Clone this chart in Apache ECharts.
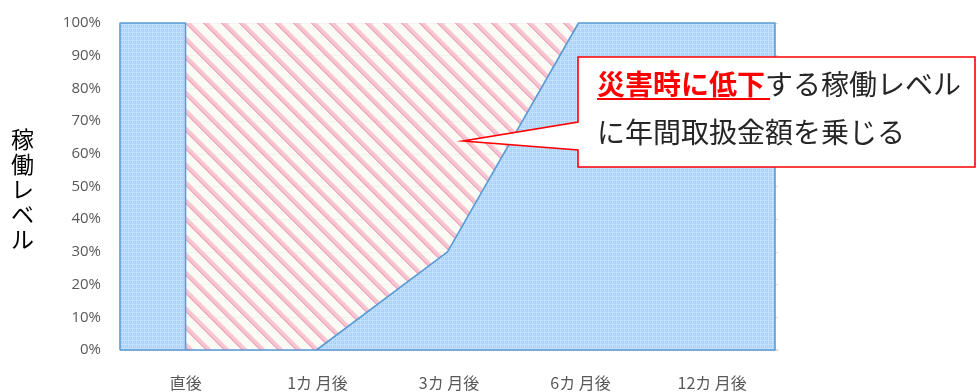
<!DOCTYPE html>
<html>
<head>
<meta charset="utf-8">
<script src="https://cdn.jsdelivr.net/npm/echarts@6/dist/echarts.min.js"></script>
<style>
  html, body { margin: 0; padding: 0; background: #ffffff; }
  #chart { width: 977px; height: 392px; }
</style>
</head>
<body>
<div id="chart"></div>
<script>
// Time points after the disaster
const categories = ['直後', '1カ 月後', '3カ 月後', '6カ 月後', '12カ 月後'];
// Operating level before the disaster (%)
const levelBefore = 100;
// Operating level at each time point (%)
const levelAfter = [0, 0, 30, 100, 100];
// Y axis ticks (%)
const yTicks = [0, 10, 20, 30, 40, 50, 60, 70, 80, 90, 100];

// Outline of the operating-level area on a continuous axis:
// index i sits at the centre of category i, edges at -0.5 and n-0.5
const n = categories.length;
const levelPath = [[-0.5, 0], [-0.5, levelBefore], [0, levelBefore]];
levelAfter.forEach((v, i) => levelPath.push([i, v]));
levelPath.push([n - 0.5, levelAfter[n - 1]], [n - 0.5, 0], [-0.5, 0]);

// Full-height band behind it (lost operating level shows through)
const fullBand = [[-0.5, yTicks[yTicks.length - 1]], [n - 0.5, yTicks[yTicks.length - 1]]];

function bluePattern() {
  const c = document.createElement('canvas');
  c.width = 8; c.height = 8;
  const ctx = c.getContext('2d');
  const img = ctx.createImageData(8, 8);
  for (let y = 0; y < 8; y++) {
    for (let x = 0; x < 8; x++) {
      let col = [168, 208, 250];
      if (x % 4 === 0 || y % 4 === 0) col = [196, 225, 253];
      if ((x % 4 === 2) && (y % 4 === 2)) col = [210, 232, 253];
      const k = (y * 8 + x) * 4;
      img.data[k] = col[0]; img.data[k + 1] = col[1]; img.data[k + 2] = col[2]; img.data[k + 3] = 255;
    }
  }
  ctx.putImageData(img, 0, 0);
  return c;
}

function pinkPattern() {
  const p = 18;
  const c = document.createElement('canvas');
  c.width = p; c.height = p;
  const ctx = c.getContext('2d');
  const img = ctx.createImageData(p, p);
  for (let y = 0; y < p; y++) {
    for (let x = 0; x < p; x++) {
      const d = ((x - y) % p + p) % p;
      let col = [250, 250, 244], a = 200;
      if (d < 2) { col = [242, 172, 192]; a = 255; }
      else if (d < 6) { col = [247, 198, 210]; a = 255; }
      else if (d < 7) { col = [249, 220, 226]; a = 235; }
      const k = (y * p + x) * 4;
      img.data[k] = col[0]; img.data[k + 1] = col[1]; img.data[k + 2] = col[2]; img.data[k + 3] = a;
    }
  }
  ctx.putImageData(img, 0, 0);
  return c;
}

const chart = echarts.init(document.getElementById('chart'), null, { renderer: 'canvas' });

const labelFont = "'Noto Sans CJK JP', 'Noto Sans', sans-serif";

chart.setOption({
  animation: false,
  backgroundColor: '#ffffff',
  grid: [
    { left: 120, right: 199, top: 23, bottom: 42 },
    { left: 120, right: 202, top: 23, bottom: 42 }
  ],
  xAxis: [
    {
      type: 'category', gridIndex: 0, data: categories, boundaryGap: true,
      axisLine: { show: true, lineStyle: { color: '#d9d9d9', width: 1.5 } },
      axisTick: { show: false },
      axisLabel: { color: '#595959', fontSize: 16, margin: 25, fontFamily: labelFont },
      splitLine: { show: false }
    },
    {
      type: 'value', gridIndex: 1, min: -0.5, max: n - 0.5, show: false
    }
  ],
  yAxis: [
    {
      type: 'value', gridIndex: 0, min: yTicks[0], max: yTicks[yTicks.length - 1], interval: 10,
      axisLine: { show: false }, axisTick: { show: false },
      axisLabel: { color: '#595959', fontSize: 15, margin: 19, fontFamily: "'Open Sans', 'Noto Sans', sans-serif", formatter: '{value}%' },
      splitLine: { show: true, lineStyle: { color: '#d9d9d9', width: 1 } }
    },
    {
      type: 'value', gridIndex: 1, min: yTicks[0], max: yTicks[yTicks.length - 1], show: false
    }
  ],
  series: [
    {
      type: 'line', xAxisIndex: 1, yAxisIndex: 1, data: fullBand,
      symbol: 'none', lineStyle: { width: 0, opacity: 0 },
      areaStyle: { color: { image: pinkPattern(), repeat: 'repeat' }, opacity: 1 },
      z: 1
    },
    {
      type: 'line', xAxisIndex: 1, yAxisIndex: 1, data: levelPath,
      symbol: 'none', clip: false,
      lineStyle: { color: '#5b9bd5', width: 1.6 },
      areaStyle: { color: { image: bluePattern(), repeat: 'repeat' }, opacity: 1 },
      z: 2
    }
  ],
  graphic: [
    {
      type: 'text', left: 11, top: 127, z: 10,
      style: {
        text: '稼\n働\nレ\nベ\nル', fontSize: 23, lineHeight: 25,
        fill: '#000000', fontFamily: labelFont, align: 'center'
      }
    },
    {
      type: 'polygon', z: 20,
      shape: { points: [[578, 57], [975, 57], [975, 167], [578, 167], [578, 150], [463, 141], [578, 122]] },
      style: { fill: '#ffffff', stroke: '#ff0000', lineWidth: 1.6 }
    },
    {
      type: 'text', x: 597, y: 84, z: 21,
      style: {
        text: '{r|災害時に低下}{k|する稼働レベル}',
        verticalAlign: 'middle', fontFamily: labelFont,
        rich: {
          r: { fill: '#ff0000', fontSize: 28, fontWeight: 'bold', fontFamily: labelFont },
          k: { fill: '#262626', fontSize: 28, fontFamily: labelFont }
        }
      }
    },
    {
      type: 'line', z: 21,
      shape: { x1: 597, y1: 99, x2: 770, y2: 99 },
      style: { stroke: '#ff0000', lineWidth: 2 }
    },
    {
      type: 'text', x: 597, y: 132, z: 21,
      style: {
        text: 'に年間取扱金額を乗じる', verticalAlign: 'middle',
        fill: '#262626', fontSize: 28, fontFamily: labelFont
      }
    }
  ]
});
</script>
</body>
</html>
